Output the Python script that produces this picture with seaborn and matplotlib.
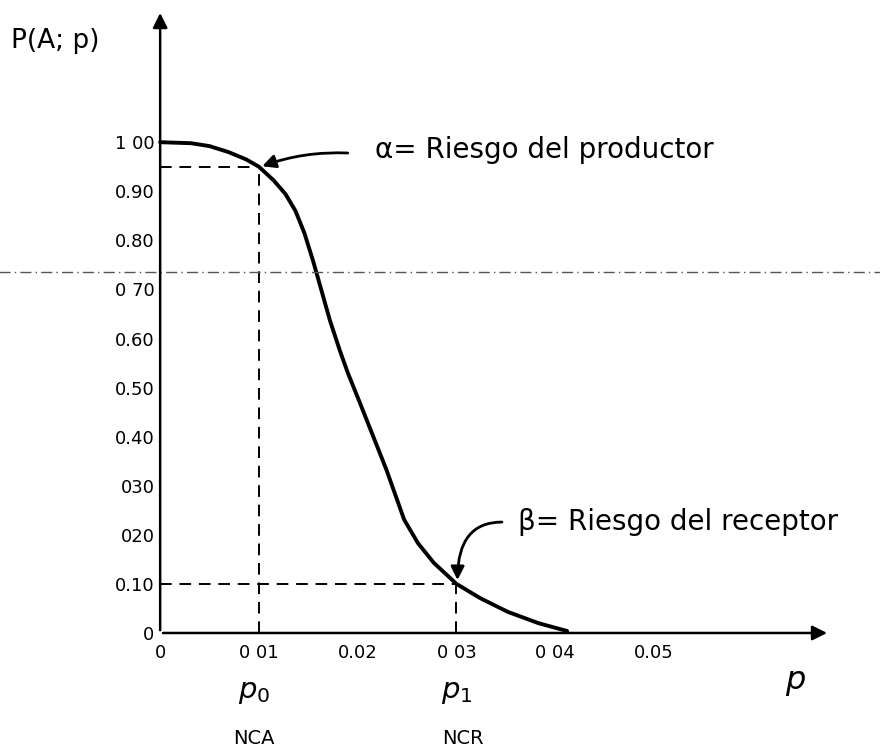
import numpy as np
import pandas as pd
import matplotlib
matplotlib.use("Agg")
import matplotlib.pyplot as plt
import seaborn as sns

# Curva OC
p_vals = [0.0, 0.0031, 0.0050, 0.0069, 0.0087, 0.0100, 0.0115, 0.0127, 0.0137,
          0.0146, 0.0155, 0.0163, 0.0172, 0.0182, 0.0190, 0.0203, 0.0216, 0.0229,
          0.0238, 0.0247, 0.0261, 0.0277, 0.0300, 0.0324, 0.0352, 0.0383, 0.0412]
pa_vals = [1.00, 0.998, 0.992, 0.980, 0.965, 0.95, 0.922, 0.894, 0.860,
           0.815, 0.757, 0.700, 0.636, 0.575, 0.530, 0.465, 0.399, 0.333,
           0.282, 0.231, 0.183, 0.143, 0.10, 0.071, 0.043, 0.020, 0.004]

y_ticks = [1.00, 0.90, 0.80, 0.70, 0.60, 0.50, 0.40, 0.30, 0.20, 0.10, 0.0]
y_labels = ["1 00", "0.90", "0.80", "0 70", "0.60", "0.50", "0.40", "030", "020", "0.10", "0"]
x_ticks = [0.0, 0.01, 0.02, 0.03, 0.04, 0.05]
x_labels = ["0", "0 01", "0.02", "0 03", "0 04", "0.05"]

p0, alpha_pt = 0.01, 0.95
p1, beta_pt = 0.03, 0.10
scan_line = 0.735

df = pd.DataFrame({"p": p_vals, "Pa": pa_vals})

sns.set_theme(style="white")
plt.rcParams["font.family"] = ["DejaVu Sans"]
plt.rcParams["text.color"] = "black"

fig = plt.figure(figsize=(8.8, 7.54), dpi=100)
ax = fig.add_axes([0.182, 0.1605, 0.761, 0.826])

xmax, ymax = 0.0678, 1.269
ax.set_xlim(0, xmax)
ax.set_ylim(0, ymax)

sns.lineplot(data=df, x="p", y="Pa", ax=ax, color="black", lw=2.8, clip_on=False)

# lineas punteadas
dash = (0, (6, 4))
ax.plot([0, p0], [alpha_pt, alpha_pt], color="black", ls=dash, lw=1.4)
ax.plot([p0, p0], [0, alpha_pt], color="black", ls=dash, lw=1.4)
ax.plot([0, p1], [beta_pt, beta_pt], color="black", ls=dash, lw=1.4)
ax.plot([p1, p1], [0, beta_pt], color="black", ls=dash, lw=1.4)

# linea del escaneo
ax.axhline(scan_line, xmin=-0.3, xmax=1.1, color="#555555", lw=1.0,
           ls=(0, (8, 3, 1, 3)), clip_on=False)

# ejes con flecha
for s in ax.spines.values():
    s.set_visible(False)
ax.annotate("", xy=(xmax, 0), xytext=(0, 0),
            arrowprops=dict(arrowstyle="-|>", color="black", lw=1.8, mutation_scale=22),
            annotation_clip=False)
ax.annotate("", xy=(0, ymax), xytext=(0, 0),
            arrowprops=dict(arrowstyle="-|>", color="black", lw=1.8, mutation_scale=22),
            annotation_clip=False)

ax.set_yticks(y_ticks)
ax.set_yticklabels(y_labels)
ax.set_xticks(x_ticks)
ax.set_xticklabels(x_labels)
ax.tick_params(axis="both", direction="in", length=7, width=1.5, color="black",
               labelsize=13, labelcolor="black")
ax.tick_params(axis="y", pad=4)
ax.tick_params(axis="x", pad=8)
ax.set_xlabel("")
ax.set_ylabel("")

fig.text(0.012, 0.945, "P(A; p)", fontsize=19, ha="left", va="center")

# riesgo del productor
ax.text(0.0218, 0.984, "α= Riesgo del productor", fontsize=20, va="center", ha="left")
ax.annotate("", xy=(p0 + 0.0002, alpha_pt), xytext=(0.0190, 0.978),
            arrowprops=dict(arrowstyle="-|>", color="black", lw=2, mutation_scale=20,
                            connectionstyle="arc3,rad=0.1", shrinkA=0, shrinkB=1))

# riesgo del receptor
ax.text(0.0362, 0.226, "β= Riesgo del receptor", fontsize=20, va="center", ha="left")
ax.annotate("", xy=(p1 + 0.0001, beta_pt + 0.005), xytext=(0.0346, 0.226),
            arrowprops=dict(arrowstyle="-|>", color="black", lw=2, mutation_scale=20,
                            connectionstyle="angle3,angleA=0,angleB=90",
                            shrinkA=0, shrinkB=1))

# etiquetas bajo el eje
ax.text(p0 - 0.0005, -0.12, r"$p_0$", fontsize=21, ha="center", va="center")
ax.text(p0 - 0.0005, -0.215, "NCA", fontsize=14, ha="center", va="center")
ax.text(p1, -0.12, r"$p_1$", fontsize=21, ha="center", va="center")
ax.text(p1 + 0.0007, -0.215, "NCR", fontsize=14, ha="center", va="center")
ax.text(0.0643, -0.10, r"$p$", fontsize=23, ha="center", va="center")

fig.savefig("out.png", dpi=100, facecolor="white")
